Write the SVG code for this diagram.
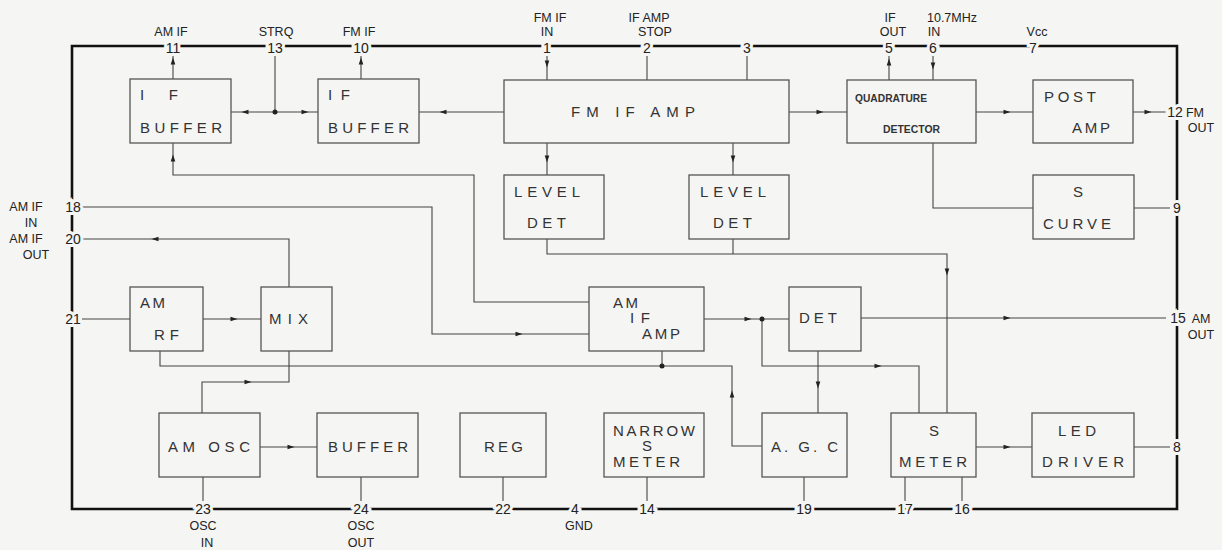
<svg xmlns="http://www.w3.org/2000/svg" xmlns:xlink="http://www.w3.org/1999/xlink" width="1222" height="550" viewBox="0 0 1222 550">
<style>
.bg{fill:#f5f5f3}
.frame{fill:none;stroke:#111;stroke-width:2.6}
.box{fill:none;stroke:#555;stroke-width:1.3}
.w{fill:none;stroke:#444;stroke-width:1.1}
.bl{font-family:"Liberation Sans",Arial,sans-serif;font-size:15px;fill:#333}
.qd{font-family:"Liberation Sans",Arial,sans-serif;font-size:11.5px;font-weight:bold;fill:#333}
.pl{font-family:"Liberation Sans Narrow","Liberation Sans",Arial,sans-serif;font-size:12.5px;fill:#222;text-anchor:middle}
.pn{font-family:"Liberation Sans",Arial,sans-serif;font-size:14px;fill:#222;text-anchor:middle;stroke:#f5f5f3;stroke-width:6;paint-order:stroke}
.ah{fill:#222}
.dot{fill:#222}
</style>
<defs>
<path id="ah" d="M3.5,0 L-3.5,-2.3 L-3.5,2.3 Z"/>
</defs>
<rect class="bg" x="0" y="0" width="1222" height="550"/>
<g id="connectors">
<path class="frame" d="M72,46 H1177 V509 H72 Z"/>
<path class="w" d="M173,79 V55"/>
<path class="w" d="M275,55 V112 M231,112 H318"/>
<path class="w" d="M361,79 V55"/>
<path class="w" d="M504,112 H419"/>
<path class="w" d="M547,55 V80 M647,55 V80 M747,55 V80"/>
<path class="w" d="M789,112 H847"/>
<path class="w" d="M889,80 V55 M933,55 V80"/>
<path class="w" d="M976,112 H1033"/>
<path class="w" d="M1133,112 H1166"/>
<path class="w" d="M933,143 V208 H1033"/>
<path class="w" d="M1134,208 H1170"/>
<path class="w" d="M547,143 V175 M733,143 V175"/>
<path class="w" d="M589,302 H474 V175 H173 V143"/>
<path class="w" d="M82,207 H432 V334 H589"/>
<path class="w" d="M289,287 V239 H82"/>
<path class="w" d="M82,319 H130"/>
<path class="w" d="M203,319 H261"/>
<path class="w" d="M762,446 H732 V366 H160 V351"/>
<path class="w" d="M662,351 V366"/>
<path class="w" d="M202,413 V382 H289 V351"/>
<path class="w" d="M260,447 H317"/>
<path class="w" d="M203,477 V501 M361,477 V501 M503,477 V501 M647,477 V501 M804,477 V501 M905,477 V501 M962,477 V501"/>
<path class="w" d="M976,447 H1032"/>
<path class="w" d="M1134,447 H1170"/>
<path class="w" d="M547,239 V254 H947 V413 M733,239 V254"/>
<path class="w" d="M704,319 H789"/>
<path class="w" d="M762,319 V366 H919 V413"/>
<path class="w" d="M861,318 H1166"/>
<path class="w" d="M818,351 V413"/>
<g class="ah">
<use xlink:href="#ah" transform="translate(173,61) rotate(-90)"/>
<use xlink:href="#ah" transform="translate(245,112) rotate(180)"/>
<use xlink:href="#ah" transform="translate(305,112)"/>
<use xlink:href="#ah" transform="translate(361,61) rotate(-90)"/>
<use xlink:href="#ah" transform="translate(443,112) rotate(180)"/>
<use xlink:href="#ah" transform="translate(547,64) rotate(90)"/>
<use xlink:href="#ah" transform="translate(820,112)"/>
<use xlink:href="#ah" transform="translate(889,62) rotate(-90)"/>
<use xlink:href="#ah" transform="translate(933,66) rotate(90)"/>
<use xlink:href="#ah" transform="translate(1007,112)"/>
<use xlink:href="#ah" transform="translate(1148,112)"/>
<use xlink:href="#ah" transform="translate(547,159) rotate(90)"/>
<use xlink:href="#ah" transform="translate(733,159) rotate(90)"/>
<use xlink:href="#ah" transform="translate(173,158) rotate(-90)"/>
<use xlink:href="#ah" transform="translate(947,272) rotate(90)"/>
<use xlink:href="#ah" transform="translate(155,239) rotate(180)"/>
<use xlink:href="#ah" transform="translate(234,319)"/>
<use xlink:href="#ah" transform="translate(248,382)"/>
<use xlink:href="#ah" transform="translate(291,447)"/>
<use xlink:href="#ah" transform="translate(519,334)"/>
<use xlink:href="#ah" transform="translate(748,319)"/>
<use xlink:href="#ah" transform="translate(1007,318)"/>
<use xlink:href="#ah" transform="translate(878,366)"/>
<use xlink:href="#ah" transform="translate(818,385) rotate(90)"/>
<use xlink:href="#ah" transform="translate(732,394) rotate(-90)"/>
<use xlink:href="#ah" transform="translate(1007,447)"/>
</g>
<circle class="dot" cx="275" cy="112" r="2.5"/>
<circle class="dot" cx="762" cy="319" r="2.5"/>
<circle class="dot" cx="662" cy="366" r="2.5"/>
</g>
<g id="pins">
<text class="pn" x="173" y="53">11</text>
<text class="pn" x="275" y="53">13</text>
<text class="pn" x="361" y="53">10</text>
<text class="pn" x="547" y="53">1</text>
<text class="pn" x="647" y="53">2</text>
<text class="pn" x="747" y="53">3</text>
<text class="pn" x="889" y="53">5</text>
<text class="pn" x="933" y="53">6</text>
<text class="pn" x="1033" y="53">7</text>
<text class="pn" x="1175" y="117">12</text>
<text class="pn" x="1177" y="213">9</text>
<text class="pn" x="1178" y="323">15</text>
<text class="pn" x="1177" y="452">8</text>
<text class="pn" x="73" y="212">18</text>
<text class="pn" x="73" y="244">20</text>
<text class="pn" x="73" y="324">21</text>
<text class="pn" x="203" y="514">23</text>
<text class="pn" x="361" y="514">24</text>
<text class="pn" x="503" y="514">22</text>
<text class="pn" x="575" y="514">4</text>
<text class="pn" x="647" y="514">14</text>
<text class="pn" x="804" y="514">19</text>
<text class="pn" x="905" y="514">17</text>
<text class="pn" x="962" y="514">16</text>
<text class="pl" x="171" y="36">AM IF</text>
<text class="pl" x="276" y="36">STRQ</text>
<text class="pl" x="359" y="36">FM IF</text>
<text class="pl" x="550" y="22">FM IF</text>
<text class="pl" x="547" y="36">IN</text>
<text class="pl" x="649" y="22">IF AMP</text>
<text class="pl" x="655" y="36">STOP</text>
<text class="pl" x="890" y="22">IF</text>
<text class="pl" x="893" y="36">OUT</text>
<text class="pl" x="952" y="22">10.7MHz</text>
<text class="pl" x="934" y="36">IN</text>
<text class="pl" x="1037" y="36">Vcc</text>
<text class="pl" x="1195" y="117">FM</text>
<text class="pl" x="1201" y="132">OUT</text>
<text class="pl" x="1201" y="323">AM</text>
<text class="pl" x="1201" y="339">OUT</text>
<text class="pl" x="26" y="211">AM IF</text>
<text class="pl" x="31" y="227">IN</text>
<text class="pl" x="26" y="243">AM IF</text>
<text class="pl" x="36" y="259">OUT</text>
<text class="pl" x="203" y="530">OSC</text>
<text class="pl" x="207" y="547">IN</text>
<text class="pl" x="361" y="530">OSC</text>
<text class="pl" x="361" y="547">OUT</text>
<text class="pl" x="579" y="530">GND</text>
</g>
<g id="if-buffer-1">
<rect class="box" x="130" y="79" width="101" height="64"/>
<text class="bl" x="140" y="100" textLength="38" lengthAdjust="spacing">I F</text>
<text class="bl" x="140" y="133" textLength="82" lengthAdjust="spacing">BUFFER</text>
</g>
<g id="if-buffer-2">
<rect class="box" x="318" y="79" width="101" height="64"/>
<text class="bl" x="328" y="100" textLength="22" lengthAdjust="spacing">I F</text>
<text class="bl" x="328" y="133" textLength="81" lengthAdjust="spacing">BUFFER</text>
</g>
<g id="fm-if-amp">
<rect class="box" x="504" y="80" width="285" height="63"/>
<text class="bl" x="571" y="117" textLength="124" lengthAdjust="spacing">FM IF AMP</text>
</g>
<g id="quadrature-detector">
<rect class="box" x="847" y="80" width="129" height="63"/>
<text class="qd" x="855" y="102" textLength="72" lengthAdjust="spacingAndGlyphs">QUADRATURE</text>
<text class="qd" x="883" y="133" textLength="57" lengthAdjust="spacingAndGlyphs">DETECTOR</text>
</g>
<g id="post-amp">
<rect class="box" x="1033" y="80" width="100" height="63"/>
<text class="bl" x="1044" y="102" textLength="52" lengthAdjust="spacing">POST</text>
<text class="bl" x="1072" y="133" textLength="38" lengthAdjust="spacing">AMP</text>
</g>
<g id="s-curve">
<rect class="box" x="1033" y="175" width="101" height="64"/>
<text class="bl" x="1073" y="197">S</text>
<text class="bl" x="1043" y="229" textLength="68" lengthAdjust="spacing">CURVE</text>
</g>
<g id="level-det-1">
<rect class="box" x="504" y="175" width="100" height="64"/>
<text class="bl" x="514" y="197" textLength="66" lengthAdjust="spacing">LEVEL</text>
<text class="bl" x="527" y="228" textLength="39" lengthAdjust="spacing">DET</text>
</g>
<g id="level-det-2">
<rect class="box" x="689" y="175" width="100" height="64"/>
<text class="bl" x="700" y="197" textLength="66" lengthAdjust="spacing">LEVEL</text>
<text class="bl" x="713" y="228" textLength="39" lengthAdjust="spacing">DET</text>
</g>
<g id="am-rf">
<rect class="box" x="130" y="287" width="73" height="64"/>
<text class="bl" x="140" y="308" textLength="25" lengthAdjust="spacing">AM</text>
<text class="bl" x="154" y="340" textLength="25" lengthAdjust="spacing">RF</text>
</g>
<g id="mix">
<rect class="box" x="261" y="287" width="71" height="64"/>
<text class="bl" x="269" y="324" textLength="39" lengthAdjust="spacing">MIX</text>
</g>
<g id="am-if-amp">
<rect class="box" x="589" y="287" width="115" height="64"/>
<text class="bl" x="613" y="308" textLength="25" lengthAdjust="spacing">AM</text>
<text class="bl" x="630" y="323" textLength="20" lengthAdjust="spacing">IF</text>
<text class="bl" x="642" y="339" textLength="38" lengthAdjust="spacing">AMP</text>
</g>
<g id="det">
<rect class="box" x="789" y="287" width="72" height="64"/>
<text class="bl" x="799" y="323" textLength="38" lengthAdjust="spacing">DET</text>
</g>
<g id="am-osc">
<rect class="box" x="159" y="413" width="101" height="64"/>
<text class="bl" x="168" y="452" textLength="82" lengthAdjust="spacing">AM OSC</text>
</g>
<g id="buffer">
<rect class="box" x="317" y="413" width="101" height="64"/>
<text class="bl" x="328" y="452" textLength="80" lengthAdjust="spacing">BUFFER</text>
</g>
<g id="reg">
<rect class="box" x="460" y="413" width="86" height="64"/>
<text class="bl" x="484" y="452" textLength="39" lengthAdjust="spacing">REG</text>
</g>
<g id="narrow-s-meter">
<rect class="box" x="604" y="413" width="100" height="64"/>
<text class="bl" x="613" y="436" textLength="82" lengthAdjust="spacing">NARROW</text>
<text class="bl" x="642" y="451">S</text>
<text class="bl" x="613" y="467" textLength="67" lengthAdjust="spacing">METER</text>
</g>
<g id="agc">
<rect class="box" x="762" y="413" width="85" height="64"/>
<text class="bl" x="771" y="452" textLength="67" lengthAdjust="spacing">A. G. C</text>
</g>
<g id="s-meter">
<rect class="box" x="891" y="413" width="85" height="64"/>
<text class="bl" x="929" y="436">S</text>
<text class="bl" x="899" y="467" textLength="68" lengthAdjust="spacing">METER</text>
</g>
<g id="led-driver">
<rect class="box" x="1032" y="413" width="102" height="64"/>
<text class="bl" x="1058" y="436" textLength="38" lengthAdjust="spacing">LED</text>
<text class="bl" x="1042" y="467" textLength="82" lengthAdjust="spacing">DRIVER</text>
</g>
</svg>
